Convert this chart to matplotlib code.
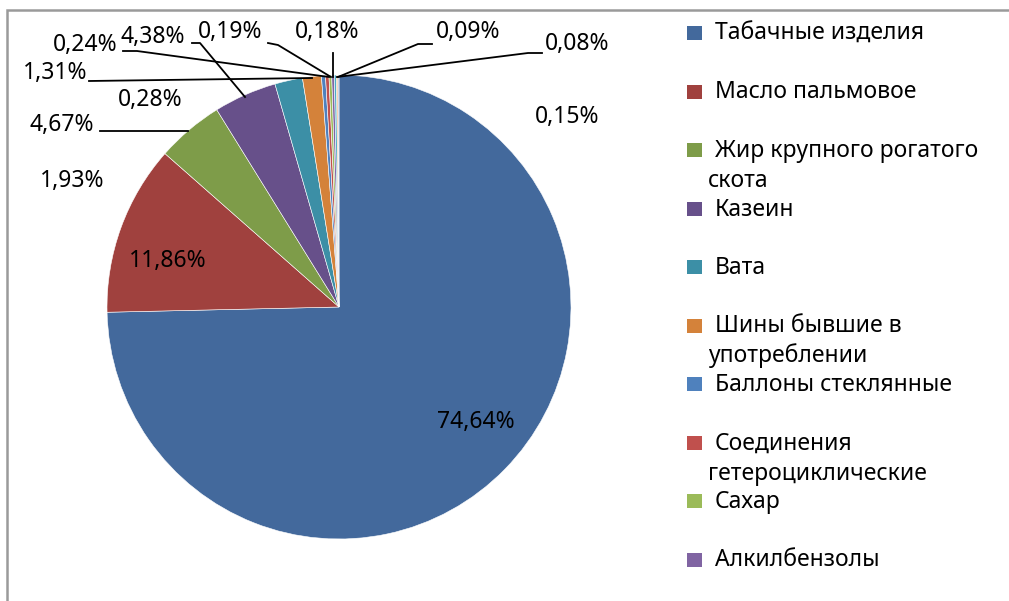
import matplotlib.pyplot as plt
from matplotlib.patches import Rectangle

plt.rcParams['font.family'] = ['Noto Sans', 'DejaVu Sans']

# ---------------- data ----------------
values = [74.64, 11.86, 4.67, 4.38, 1.93, 1.31, 0.28, 0.24, 0.19, 0.18, 0.15, 0.09, 0.08]
colors = ['#43699C', '#A0413E', '#7E9C49', '#67508A', '#3C8FA6', '#D4823A',
          '#4F81BD', '#C0504D', '#9BBB59', '#8064A2', '#4BACC6', '#F79646', '#A5B9DD']
legend_names = ['Табачные изделия', 'Масло пальмовое', 'Жир крупного рогатого\nскота',
                'Казеин', 'Вата', 'Шины бывшие в\nупотреблении', 'Баллоны стеклянные',
                'Соединения\nгетероциклические', 'Сахар', 'Алкилбензолы']

# label placement (pixel coords, image y downwards) as laid out in the original
label_pos = {74.64: (476, 422), 11.86: (168, 261), 4.67: (62, 125), 4.38: (153, 37),
             1.93: (72, 181), 1.31: (55, 73), 0.28: (150, 100), 0.24: (85, 45),
             0.19: (230, 32), 0.18: (327, 32), 0.15: (567, 117), 0.09: (468, 32),
             0.08: (577, 44)}
leaders = {
    0.24: [(123, 51), (137, 51), (329, 77)],
    4.38: [(192, 43), (200, 43), (245, 97)],
    0.19: [(268, 43), (278, 45), (331, 77)],
    0.18: [(333, 53), (333, 77)],
    0.09: [(432, 44), (418, 44), (338, 77)],
    0.08: [(542, 53), (528, 53), (337, 77)],
    1.31: [(89, 81), (312, 78)],
    4.67: [(100, 131), (188, 131)],
}
# ----------------------------------------

W, H = 1009, 601
fig = plt.figure(figsize=(W / 100, H / 100), dpi=100)
ax = fig.add_axes([0, 0, 1, 1])


def px(x, y):
    return x, H - y


ax.pie(values, colors=colors, startangle=90, counterclock=False,
       center=px(339, 307), radius=232, frame=True,
       wedgeprops=dict(edgecolor='white', linewidth=0.4))
ax.set_xlim(0, W)
ax.set_ylim(0, H)
ax.axis('off')

# chart frame (only left and top edges visible in the crop)
ax.add_patch(Rectangle(px(7, 640), 1100, 630, fill=False, edgecolor='#9a9a9a',
                       lw=1.8, zorder=0, clip_on=False))

for v in values:
    x, y = label_pos[v]
    ax.text(*px(x, y), f"{v:.2f}%".replace('.', ','), fontsize=16.5,
            ha='center', va='center', color='black')

for v, pts in leaders.items():
    xs = [p[0] for p in pts]
    ys = [H - p[1] for p in pts]
    ax.plot(xs, ys, color='black', lw=1.3)

# legend (manual, Excel-like spacing: wrapped line spills into the gap)
for i, name in enumerate(legend_names):
    y = 40 + 58.5 * i
    ax.add_patch(Rectangle(px(687, y), 15, 14, facecolor=colors[i], edgecolor='none'))
    for k, line in enumerate(name.split('\n')):
        x0 = 715 if k == 0 else 708
        ax.text(*px(x0, y + 30 * k), line, fontsize=16.5, ha='left',
                va='baseline', color='black')

fig.savefig('out.png', dpi=100)
